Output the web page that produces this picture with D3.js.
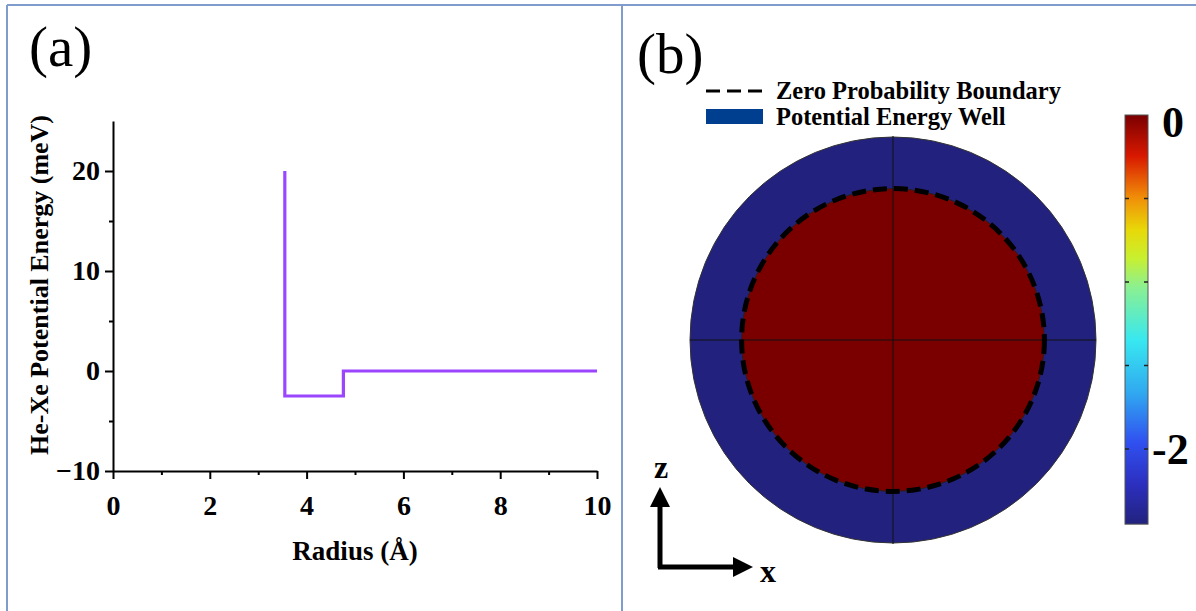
<!DOCTYPE html>
<html>
<head>
<meta charset="utf-8">
<script src="https://cdn.jsdelivr.net/npm/d3@7"></script>
<style>
  body { margin: 0; background: #fff; }
  svg text { font-family: "Liberation Serif", "Times New Roman", serif; }
</style>
</head>
<body>
<svg id="fig" width="1196" height="611"></svg>
<script>
// ---- data ----
// (a) square-well He-Xe potential, radius in angstrom, energy in meV
const radius = [3.55, 3.55, 4.76, 4.76, 10];
const energy = [20, -2.5, -2.5, 0, 0];
const xTicks = [0, 2, 4, 6, 8, 10];
const xMinor = [1, 3, 5, 7, 9];
const yTicks = [-10, 0, 10, 20];
const yMinor = [-5, 5, 15];

// (b) cross-section: inner (zero probability) radius and outer well radius, angstrom
const innerR = 3.55;
const outerR = 4.76;
const cbarDomain = [-2.45, 0];
const cbarTicks = [-2, -1.5, -1, -0.5, 0];
const cbarLabels = [0, -2];
// jet-like colour stops, offset 0 = bottom (min), 1 = top (0)
const cbarOffsets = [0, 0.1, 0.2, 0.32, 0.45, 0.58, 0.65, 0.72, 0.8, 0.9, 1];
const cbarColors = ["#22227e", "#2c30c0", "#3050f0", "#30a8f0", "#38e8f0", "#8cf090",
                    "#c8f030", "#e8d808", "#f08c08", "#d81800", "#7a0000"];
const legendLabels = ["Zero Probability Boundary", "Potential Energy Well"];

const svg = d3.select("#fig");
svg.append("rect").attr("width", 1196).attr("height", 611).attr("fill", "#fff");

// frame
const frameColor = "#7f9ccc";
svg.append("line").attr("x1", 7).attr("x2", 1196).attr("y1", 5).attr("y2", 5)
  .attr("stroke", frameColor).attr("stroke-width", 2);
svg.append("line").attr("x1", 7).attr("x2", 7).attr("y1", 5).attr("y2", 611)
  .attr("stroke", frameColor).attr("stroke-width", 2);
svg.append("line").attr("x1", 622).attr("x2", 622).attr("y1", 5).attr("y2", 611)
  .attr("stroke", frameColor).attr("stroke-width", 2);

// ---- panel (a) ----
const x = d3.scaleLinear().domain([0, 10]).range([113, 597]);
const y = d3.scaleLinear().domain([-10, 25]).range([471, 121]);

svg.append("text").attr("x", 29).attr("y", 66)
  .style("font-size", "57px").text("(a)");

function styleAxis(g) {
  g.attr("font-size", null).attr("font-family", null);
  g.selectAll("path, line").attr("stroke", "#000").attr("stroke-width", 2);
  g.selectAll("text").style("font-weight", "bold").style("font-size", "28px").attr("fill", "#000");
}

svg.append("g").attr("transform", `translate(0,${y(-10)})`)
  .call(d3.axisBottom(x).tickValues(xTicks).tickSize(8).tickSizeOuter(0).tickPadding(16))
  .call(styleAxis);
svg.append("g").attr("transform", `translate(0,${y(-10)})`)
  .call(d3.axisBottom(x).tickValues(xMinor).tickSize(4).tickFormat(""))
  .call(g => g.select(".domain").remove())
  .call(styleAxis);

svg.append("g").attr("transform", `translate(${x(0)},0)`)
  .call(d3.axisLeft(y).tickValues(yTicks).tickSize(8).tickSizeOuter(0).tickPadding(5)
    .tickFormat(d => d < 0 ? "\u2212" + Math.abs(d) : d))
  .call(styleAxis);
svg.append("g").attr("transform", `translate(${x(0)},0)`)
  .call(d3.axisLeft(y).tickValues(yMinor).tickSize(4).tickFormat(""))
  .call(g => g.select(".domain").remove())
  .call(styleAxis);

svg.append("text").attr("x", (x(0) + x(10)) / 2).attr("y", 560)
  .attr("text-anchor", "middle").style("font-weight", "bold").style("font-size", "27px")
  .text("Radius (Å)");
svg.append("text").attr("transform", `translate(48,${(118 + 452) / 2}) rotate(-90)`)
  .attr("text-anchor", "middle").style("font-weight", "bold").style("font-size", "26px")
  .text("He-Xe Potential Energy (meV)");

const pts = radius.map((r, i) => [r, energy[i]]);
svg.append("path").datum(pts)
  .attr("d", d3.line().x(d => x(d[0])).y(d => y(d[1])))
  .attr("fill", "none").attr("stroke", "#9b45ff").attr("stroke-width", 3.2);

// ---- panel (b) ----
svg.append("text").attr("x", 637).attr("y", 73)
  .style("font-size", "57px").text("(b)");

const cx = d3.scaleLinear().domain([-outerR, outerR]).range([690, 1096]);
const cz = d3.scaleLinear().domain([outerR, -outerR]).range([136, 544]);
const cScale = d3.scaleLinear().domain([cbarDomain[0], cbarDomain[1]]).range([0, 1]).clamp(true);
const colorAt = v => {
  const t = cScale(v);
  const i = Math.max(1, d3.bisectLeft(cbarOffsets, t));
  const k = (t - cbarOffsets[i - 1]) / (cbarOffsets[i] - cbarOffsets[i - 1]);
  return d3.interpolateRgb(cbarColors[i - 1], cbarColors[i])(k);
};
const rpx = r => cx(r) - cx(0);

svg.append("circle").attr("cx", cx(0)).attr("cy", cz(0)).attr("r", rpx(outerR))
  .attr("fill", colorAt(d3.min(energy))).attr("stroke", "#333").attr("stroke-width", 1);
svg.append("circle").attr("cx", cx(0)).attr("cy", cz(0)).attr("r", rpx(innerR))
  .attr("fill", colorAt(0)).attr("stroke", "#222").attr("stroke-width", 1);
svg.append("line").attr("x1", cx(-outerR)).attr("x2", cx(outerR)).attr("y1", cz(0)).attr("y2", cz(0))
  .attr("stroke", "#111").attr("stroke-width", 1);
svg.append("line").attr("x1", cx(0)).attr("x2", cx(0)).attr("y1", cz(outerR)).attr("y2", cz(-outerR))
  .attr("stroke", "#111").attr("stroke-width", 1);
svg.append("circle").attr("cx", cx(0)).attr("cy", cz(0)).attr("r", rpx(innerR))
  .attr("fill", "none").attr("stroke", "#000").attr("stroke-width", 5)
  .attr("stroke-dasharray", "14 7");

// legend
const leg = svg.append("g");
leg.append("line").attr("x1", 706).attr("x2", 762).attr("y1", 91).attr("y2", 91)
  .attr("stroke", "#000").attr("stroke-width", 3).attr("stroke-dasharray", "14 7");
leg.append("rect").attr("x", 706).attr("y", 109).attr("width", 57).attr("height", 15)
  .attr("fill", "#003f8f");
leg.selectAll("text.lg").data(legendLabels).enter().append("text")
  .attr("class", "lg").attr("x", 776).attr("y", (d, i) => 99 + i * 26)
  .style("font-weight", "bold").style("font-size", "24.5px").text(d => d);

// colourbar
const cb = d3.scaleLinear().domain([0, -2]).range([115, 449]);
const cbTop = cb(cbarDomain[1]), cbBot = cb(cbarDomain[0]);
const grad = svg.append("defs").append("linearGradient").attr("id", "jet")
  .attr("x1", 0).attr("y1", 1).attr("x2", 0).attr("y2", 0);
grad.selectAll("stop").data(cbarOffsets).enter().append("stop")
  .attr("offset", d => d).attr("stop-color", (d, i) => cbarColors[i]);
svg.append("rect").attr("x", 1125).attr("y", cbTop).attr("width", 23).attr("height", cbBot - cbTop)
  .attr("fill", "url(#jet)").attr("stroke", "#555").attr("stroke-width", 1);
const inner = cbarTicks.filter(d => d > cbarDomain[0] && d < cbarDomain[1]);
svg.selectAll("line.cbl").data(inner).enter().append("line").attr("class", "cbl")
  .attr("x1", 1125).attr("x2", 1129).attr("y1", d => cb(d)).attr("y2", d => cb(d))
  .attr("stroke", "#222").attr("stroke-width", 1.5);
svg.selectAll("line.cbr").data(inner).enter().append("line").attr("class", "cbr")
  .attr("x1", 1144).attr("x2", 1148).attr("y1", d => cb(d)).attr("y2", d => cb(d))
  .attr("stroke", "#222").attr("stroke-width", 1.5);
svg.selectAll("text.cbt").data(cbarLabels).enter().append("text").attr("class", "cbt")
  .attr("x", 1152).attr("y", d => d === 0 ? cb(d) + 22 : cb(d) + 15)
  .style("font-weight", "bold").style("font-size", "44px")
  .attr("dx", d => d === 0 ? 10 : 0)
  .text(d => d < 0 ? "-" + Math.abs(d) : d);

// orientation arrows
const defs = svg.select("defs");
defs.append("marker").attr("id", "ah").attr("viewBox", "0 0 10 10").attr("refX", 2).attr("refY", 5)
  .attr("markerWidth", 4).attr("markerHeight", 4).attr("orient", "auto")
  .append("path").attr("d", "M0,0 L10,5 L0,10 z").attr("fill", "#000");
svg.append("path").attr("d", "M660,568 L660,503").attr("stroke", "#000").attr("stroke-width", 5)
  .attr("fill", "none").attr("marker-end", "url(#ah)");
svg.append("path").attr("d", "M658,567 L737,567").attr("stroke", "#000").attr("stroke-width", 5)
  .attr("fill", "none").attr("marker-end", "url(#ah)");
svg.append("text").attr("x", 661).attr("y", 478).attr("text-anchor", "middle")
  .style("font-weight", "bold").style("font-size", "32px").text("z");
svg.append("text").attr("x", 768).attr("y", 582).attr("text-anchor", "middle")
  .style("font-weight", "bold").style("font-size", "32px").text("x");
</script>
</body>
</html>
